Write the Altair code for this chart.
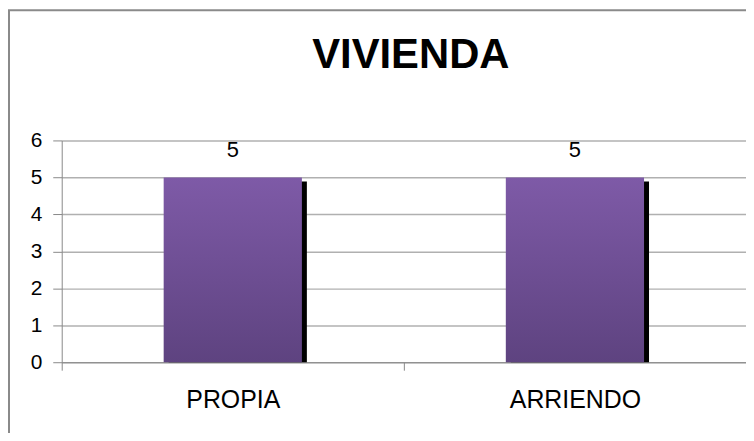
import altair as alt
import pandas as pd

categories = ["PROPIA", "ARRIENDO"]
values = [5, 5]
title_text = ["VIVIENDA"]

df = pd.DataFrame({"cat": categories, "val": values})
df_title = pd.DataFrame({"t": title_text})

W, H = 688, 223
FONT = "Liberation Sans"

x_enc = alt.X("cat:N", sort=categories, title=None,
              scale=alt.Scale(paddingInner=0, paddingOuter=0),
              axis=alt.Axis(labelAngle=0, labelFontSize=25, labelFont=FONT, labelColor="black",
                            labelPadding=18, tickBand="extent", tickSize=8,
                            tickColor="#888888", domainColor="#888888", grid=False))
y_enc = alt.Y("val:Q", title=None,
              scale=alt.Scale(domain=[0, 6], nice=False),
              axis=alt.Axis(values=[0, 1, 2, 3, 4, 5, 6], labelFontSize=21, labelFont=FONT,
                            labelColor="black", labelPadding=11, tickSize=9,
                            tickColor="#888888", domainColor="#888888",
                            gridColor="#b0b0b0", gridWidth=1.5))

base = alt.Chart(df)

frame = base.mark_rect(fill=None, fillOpacity=0, stroke="#8a8a8a", strokeWidth=2).encode(
    x=alt.value(-53), x2=alt.value(W + 60), y=alt.value(-131), y2=alt.value(H + 100)
).transform_filter(alt.datum.cat == "PROPIA")

title = alt.Chart(df_title).mark_text(
    font=FONT, fontSize=42, fontWeight="bold", color="black", baseline="alphabetic", align="center"
).encode(x=alt.value(W / 2 + 7), y=alt.value(-73), text="t:N")

shadow = base.mark_bar(color="black", xOffset=5, yOffset=4,
                       width=alt.RelativeBandSize(0.404)).encode(
    x=x_enc, y=y_enc, y2=alt.value(H - 4))

bars = base.mark_bar(
    width=alt.RelativeBandSize(0.404),
    color=alt.Gradient(gradient="linear", x1=0, x2=0, y1=0, y2=1,
                       stops=[alt.GradientStop(color="#7E5AA7", offset=0),
                              alt.GradientStop(color="#5E4380", offset=1)])
).encode(x=x_enc, y=y_enc)

labels = base.mark_text(font=FONT, fontSize=22, color="black", baseline="alphabetic", dy=-21).encode(
    x=x_enc, y=y_enc, text=alt.Text("val:Q"))

chart = alt.layer(frame, shadow, bars, labels, title).properties(
    width=W, height=H,
    autosize=alt.AutoSizeParams(type="none"),
    padding={"left": 54, "top": 132, "right": 0, "bottom": 70},
).configure_view(stroke=None)

chart.save("out.html", embed_options={"renderer": "svg", "actions": False})
